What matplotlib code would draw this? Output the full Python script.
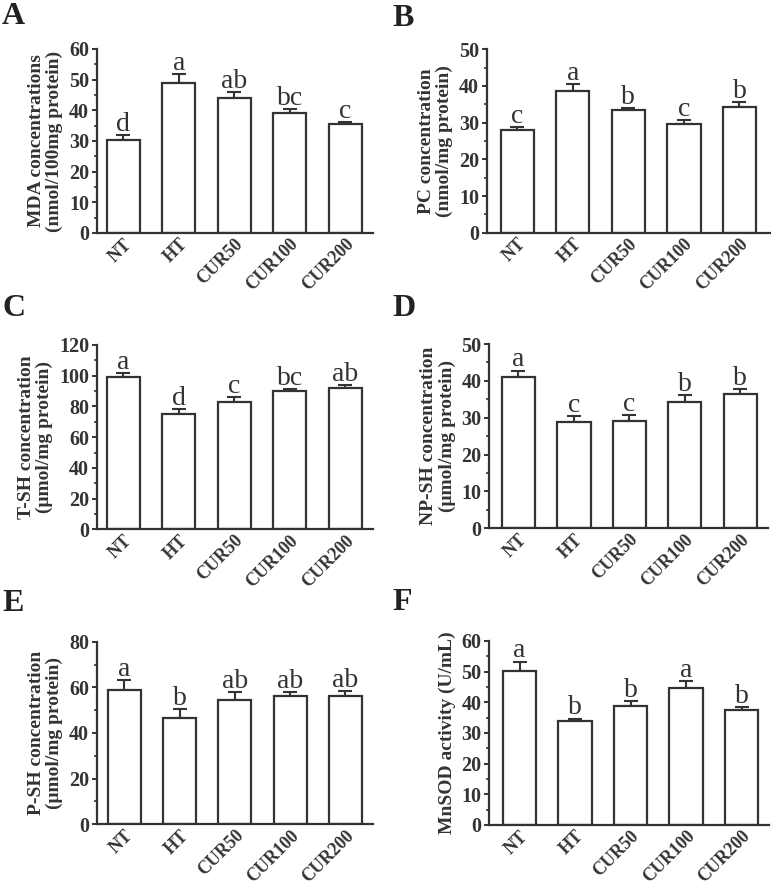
import matplotlib
matplotlib.use("Agg")
import matplotlib.pyplot as plt
from matplotlib.ticker import MultipleLocator
import numpy as np

groups = ["NT", "HT", "CUR50", "CUR100", "CUR200"]

mda_mean = [30.2, 49.0, 43.9, 39.0, 35.7]
mda_err = [1.8, 2.8, 2.1, 1.5, 0.5]
mda_sig = ["d", "a", "ab", "bc", "c"]

pc_mean = [28.0, 38.6, 33.4, 29.6, 34.4]
pc_err = [0.9, 1.9, 0.5, 1.1, 1.2]
pc_sig = ["c", "a", "b", "c", "b"]

tsh_mean = [99.0, 74.9, 82.9, 90.2, 92.0]
tsh_err = [2.9, 3.6, 3.0, 1.1, 1.7]
tsh_sig = ["a", "d", "c", "bc", "ab"]

npsh_mean = [41.0, 28.9, 29.2, 34.3, 36.4]
npsh_err = [1.8, 1.6, 1.5, 1.8, 1.3]
npsh_sig = ["a", "c", "c", "b", "b"]

psh_mean = [58.8, 46.7, 54.4, 56.3, 56.1]
psh_err = [4.4, 3.7, 3.7, 1.8, 2.3]
psh_sig = ["a", "b", "ab", "ab", "ab"]

sod_mean = [50.2, 33.8, 38.8, 44.7, 37.5]
sod_err = [3.1, 0.9, 1.5, 2.2, 0.9]
sod_sig = ["a", "b", "b", "a", "b"]

W, H = 771, 886
fig = plt.figure(figsize=(W / 100, H / 100), dpi=100)

INK = "#333333"
SERIF = ["Liberation Serif", "DejaVu Serif"]

# (letter, mean, err, sig, ylabel, ymax, ystep, rect px (left, top, right, bottom), xlim, letter pos px)
panels = [
    ("A", mda_mean, mda_err, mda_sig, "MDA concentrations\n(nmol/100mg protein)", 60, 10,
     (96.7, 49, 373, 233), (-0.48, 4.5), (2, 2)),
    ("B", pc_mean, pc_err, pc_sig, "PC concentration\n(nmol/mg protein)", 50, 10,
     (486.7, 49.3, 770, 232.7), (-0.55, 4.55), (392, 4)),
    ("C", tsh_mean, tsh_err, tsh_sig, "T-SH concentration\n(\u03bcmol/mg protein)", 120, 20,
     (96.7, 345, 373, 529.3), (-0.48, 4.5), (2, 294)),
    ("D", npsh_mean, npsh_err, npsh_sig, "NP-SH concentration\n(\u03bcmol/mg protein)", 50, 10,
     (489, 344, 768, 528.3), (-0.53, 4.5), (392, 294)),
    ("E", psh_mean, psh_err, psh_sig, "P-SH concentration\n(\u03bcmol/mg protein)", 80, 20,
     (96.7, 641.7, 373, 824.3), (-0.5, 4.5), (2, 589)),
    ("F", sod_mean, sod_err, sod_sig, "MnSOD activity (U/mL)", 60, 10,
     (489, 641, 769.3, 825), (-0.55, 4.5), (392, 588)),
]

for letter, mean, err, sig, ylab, ymax, ystep, rect, xlim, lpos in panels:
    l, t, r, b = rect
    ax = fig.add_axes([l / W, 1 - b / H, (r - l) / W, (b - t) / H])
    x = np.arange(len(groups))
    ax.bar(x, mean, width=0.6, color="white", edgecolor=INK, linewidth=1.6, zorder=2)
    ax.errorbar(x, mean, yerr=[np.zeros(len(err)), err], fmt="none", ecolor=INK,
                elinewidth=1.5, capsize=4.8, capthick=1.5, zorder=1)
    for xi, m, e, s in zip(x, mean, err, sig):
        ax.annotate(s, (xi, m + e), xytext=(0, 3), textcoords="offset points",
                    ha="center", va="baseline", fontsize=20, family=SERIF, color=INK)
    ax.set_xlim(*xlim)
    ax.set_ylim(0, ymax)
    ax.yaxis.set_major_locator(MultipleLocator(ystep))
    ax.yaxis.set_minor_locator(MultipleLocator(ystep / 2))
    ax.spines["top"].set_visible(False)
    ax.spines["right"].set_visible(False)
    for sp in ("left", "bottom"):
        ax.spines[sp].set_linewidth(1.6)
        ax.spines[sp].set_color(INK)
    ax.tick_params(axis="y", which="major", length=3.5, width=1.4, color=INK, pad=2)
    ax.tick_params(axis="y", which="minor", length=2.2, width=1.2, color=INK)
    ax.tick_params(axis="x", length=0, pad=2)
    ax.set_xticks(x)
    ax.set_xticklabels(groups, rotation=45, ha="right", va="top", rotation_mode="anchor",
                       fontsize=13, fontweight="bold", family=SERIF, color=INK)
    for lab in ax.get_yticklabels():
        lab.set_fontsize(14.5)
        lab.set_fontweight("bold")
        lab.set_family(SERIF)
        lab.set_color(INK)
    ax.set_ylabel(ylab, fontsize=14, fontweight="bold", family=SERIF, color=INK,
                  linespacing=1.1, labelpad=4)
    fig.text(lpos[0] / W, 1 - lpos[1] / H, letter, fontsize=23, fontweight="bold",
             family=SERIF, color="#222222", ha="left", va="top")

fig.savefig("out.png", dpi=100, facecolor="white")
